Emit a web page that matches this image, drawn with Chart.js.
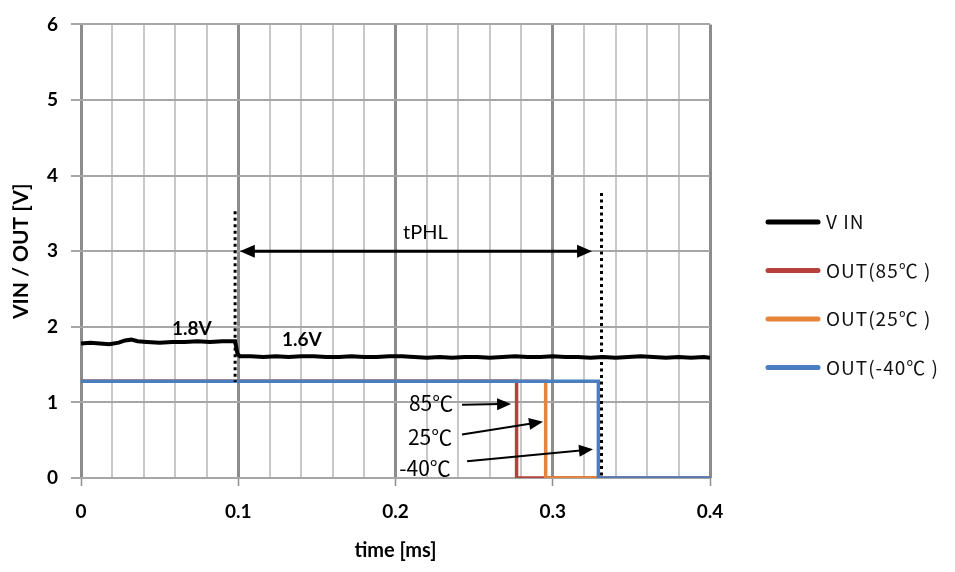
<!DOCTYPE html>
<html>
<head>
<meta charset="utf-8">
<script src="https://cdn.jsdelivr.net/npm/chart.js@4"></script>
<style>
  body { margin: 0; background: #fff; }
  #wrap { width: 955px; height: 572px; position: relative; }
</style>
</head>
<body>
<div id="wrap"><canvas id="chart"></canvas></div>
<script>
// VIN trace (time in ms, voltage in V)
const vinTime = [0, 0.006, 0.012, 0.018, 0.024, 0.028, 0.032, 0.036, 0.042, 0.05,
  0.058, 0.066, 0.074, 0.082, 0.09, 0.098, 0.0995, 0.101, 0.108, 0.116,
  0.124, 0.132, 0.14, 0.148, 0.156, 0.164, 0.172, 0.18, 0.188, 0.196,
  0.204, 0.212, 0.22, 0.228, 0.236, 0.244, 0.252, 0.26, 0.268, 0.276,
  0.284, 0.292, 0.3, 0.308, 0.316, 0.324, 0.332, 0.34, 0.348, 0.356,
  0.364, 0.372, 0.38, 0.388, 0.396, 0.4];
const vinVolt = [1.78, 1.79, 1.78, 1.77, 1.79, 1.82, 1.83, 1.81, 1.80, 1.79,
  1.80, 1.80, 1.81, 1.80, 1.81, 1.81, 1.64, 1.61, 1.61, 1.60,
  1.61, 1.60, 1.61, 1.61, 1.60, 1.60, 1.61, 1.60, 1.60, 1.61,
  1.61, 1.60, 1.59, 1.60, 1.59, 1.60, 1.60, 1.59, 1.60, 1.61,
  1.60, 1.60, 1.61, 1.60, 1.60, 1.59, 1.60, 1.59, 1.60, 1.61,
  1.60, 1.59, 1.60, 1.59, 1.60, 1.59];

// OUT step responses
const out85Time = [0, 0.277, 0.277, 0.4];
const out85Volt = [1.28, 1.28, 0, 0];
const out25Time = [0, 0.2955, 0.2955, 0.4];
const out25Volt = [1.28, 1.28, 0, 0];
const outM40Time = [0, 0.329, 0.329, 0.4];
const outM40Volt = [1.28, 1.28, 0, 0];

const seriesNames = ['V IN', 'OUT(85\u2103 )', 'OUT(25\u2103 )', 'OUT(-40\u2103 )'];
const seriesColors = ['#000000', '#b5403d', '#e6843a', '#4a7ec0'];

// axes
const xMin = 0, xMax = 0.4, xMinorStep = 0.02, xMajorStep = 0.1;
const yMin = 0, yMax = 6, yStep = 1;

// annotations (data units)
const markerLines = [
  { x: 0.098, from: 3.53, to: 1.27 },
  { x: 0.331, from: 3.77, to: 0 }
];
const spanArrow = { from: 0.101, to: 0.325, y: 3.0, label: 'tPHL', labelX: 0.219, labelY: 3.25 };
const levelLabels = [
  { text: '1.8V', x: 0.0705, y: 1.97 },
  { text: '1.6V', x: 0.1405, y: 1.83 }
];
const tempNotes = [
  { text: '85\u2103', tx: 0.2226, ty: 0.99, x1: 0.2423, y1: 0.97, x2: 0.2735, y2: 0.98 },
  { text: '25\u2103', tx: 0.222, ty: 0.536, x1: 0.2423, y1: 0.575, x2: 0.2938, y2: 0.745 },
  { text: '-40\u2103', tx: 0.2188, ty: 0.13, x1: 0.2455, y1: 0.222, x2: 0.3256, y2: 0.379 }
];

const toPoints = (xs, ys) => xs.map((t, i) => ({ x: t, y: ys[i] }));
const isMajor = v => Math.abs(v / xMajorStep - Math.round(v / xMajorStep)) < 1e-6;

function drawArrowHead(ctx, fromX, fromY, toX, toY, len, half) {
  const a = Math.atan2(toY - fromY, toX - fromX);
  ctx.beginPath();
  ctx.moveTo(toX, toY);
  ctx.lineTo(toX - len * Math.cos(a) + half * Math.sin(a), toY - len * Math.sin(a) - half * Math.cos(a));
  ctx.lineTo(toX - len * Math.cos(a) - half * Math.sin(a), toY - len * Math.sin(a) + half * Math.cos(a));
  ctx.closePath();
  ctx.fill();
}

const notesPlugin = {
  id: 'notes',
  afterDatasetsDraw(chart) {
    const { ctx, scales: { x, y } } = chart;
    const px = v => x.getPixelForValue(v);
    const py = v => y.getPixelForValue(v);
    ctx.save();
    ctx.strokeStyle = '#000';
    ctx.fillStyle = '#000';

    // dotted markers
    ctx.lineWidth = 3;
    ctx.setLineDash([3, 3.5]);
    markerLines.forEach(m => {
      ctx.beginPath();
      ctx.moveTo(px(m.x), py(m.from));
      ctx.lineTo(px(m.x), py(m.to));
      ctx.stroke();
    });
    ctx.setLineDash([]);

    // tPHL double arrow
    const ax1 = px(spanArrow.from), ax2 = px(spanArrow.to), ay = py(spanArrow.y);
    ctx.lineWidth = 3;
    ctx.beginPath();
    ctx.moveTo(ax1 + 10, ay);
    ctx.lineTo(ax2 - 10, ay);
    ctx.stroke();
    drawArrowHead(ctx, ax2, ay, ax1, ay, 15, 6.5);
    drawArrowHead(ctx, ax1, ay, ax2, ay, 15, 6.5);
    ctx.font = '20px Lato';
    ctx.textAlign = 'center';
    ctx.textBaseline = 'middle';
    ctx.fillText(spanArrow.label, px(spanArrow.labelX), py(spanArrow.labelY));

    // level labels
    ctx.font = 'bold 19px Lato';
    levelLabels.forEach(l => ctx.fillText(l.text, px(l.x), py(l.y)));

    // temperature notes
    ctx.font = '21px "Noto Sans CJK JP"';
    ctx.lineWidth = 2;
    tempNotes.forEach(n => {
      ctx.fillText(n.text, px(n.tx), py(n.ty));
      const x1 = px(n.x1), y1 = py(n.y1), x2 = px(n.x2), y2 = py(n.y2);
      const a = Math.atan2(y2 - y1, x2 - x1);
      ctx.beginPath();
      ctx.moveTo(x1, y1);
      ctx.lineTo(x2 - 10 * Math.cos(a), y2 - 10 * Math.sin(a));
      ctx.stroke();
      drawArrowHead(ctx, x1, y1, x2, y2, 14, 6);
    });
    ctx.restore();
  }
};

const legendPlugin = {
  id: 'sideLegend',
  afterDraw(chart) {
    const { ctx } = chart;
    ctx.save();
    ctx.font = '19px "Noto Sans CJK JP"';
    ctx.letterSpacing = '1px';
    ctx.textBaseline = 'middle';
    ctx.textAlign = 'left';
    chart.data.datasets.forEach((ds, i) => {
      const yy = 222 + i * 48.5;
      ctx.strokeStyle = ds.borderColor;
      ctx.lineWidth = 5;
      ctx.lineCap = 'round';
      ctx.beginPath();
      ctx.moveTo(768, yy);
      ctx.lineTo(818, yy);
      ctx.stroke();
      ctx.fillStyle = '#111';
      ctx.fillText(ds.label, 826, yy);
    });
    ctx.restore();
  }
};

const makeSet = (i, pts, order) => ({
  label: seriesNames[i],
  data: pts,
  borderColor: seriesColors[i],
  backgroundColor: seriesColors[i],
  borderWidth: i === 0 ? 4 : 3.5,
  pointRadius: 0,
  showLine: true,
  tension: 0,
  order: order
});

const chart = new Chart(document.getElementById('chart'), {
  type: 'scatter',
  data: {
    datasets: [
      makeSet(0, toPoints(vinTime, vinVolt), 0),
      makeSet(1, toPoints(out85Time, out85Volt), 3),
      makeSet(2, toPoints(out25Time, out25Volt), 2),
      makeSet(3, toPoints(outM40Time, outM40Volt), 1)
    ]
  },
  options: {
    responsive: true,
    maintainAspectRatio: false,
    animation: false,
    layout: { padding: { top: 18, right: 245, bottom: 0, left: 0 } },
    plugins: {
      legend: { display: false },
      tooltip: { enabled: false }
    },
    scales: {
      x: {
        type: 'linear',
        min: xMin,
        max: xMax,
        border: { display: false },
        grid: {
          color: c => isMajor(c.tick.value) ? '#8c8c8c' : '#c8c8c8',
          lineWidth: c => isMajor(c.tick.value) ? 3 : 2,
          tickColor: c => isMajor(c.tick.value) ? '#8c8c8c' : 'rgba(0,0,0,0)',
          tickWidth: 1.5,
          tickLength: 8
        },
        ticks: {
          stepSize: xMinorStep,
          maxTicksLimit: 100,
          autoSkip: false,
          maxRotation: 0,
          padding: 14,
          color: '#000',
          font: { family: 'Lato', size: 19, weight: 'bold' },
          callback: v => isMajor(v) ? String(Math.round(v * 10) / 10) : ''
        },
        title: {
          display: true,
          text: 'time [ms]',
          color: '#000',
          font: { family: 'Lato', size: 20, weight: 'bold' },
          padding: { top: 0, bottom: 9 }
        },
        afterFit: s => { s.height = 94; }
      },
      y: {
        min: yMin,
        max: yMax,
        border: { display: false },
        grid: {
          color: '#a6a6a6',
          lineWidth: 2,
          tickLength: 10
        },
        ticks: {
          stepSize: yStep,
          padding: 13,
          color: '#000',
          font: { family: 'Lato', size: 19, weight: 'bold' }
        },
        title: {
          display: true,
          text: 'VIN / OUT [V]',
          color: '#000',
          font: { family: 'Lato', size: 21, weight: 'bold' },
          padding: { top: 9, bottom: 0 }
        },
        afterFit: s => { s.width = 81; }
      }
    }
  },
  plugins: [notesPlugin, legendPlugin]
});
</script>
</body>
</html>
